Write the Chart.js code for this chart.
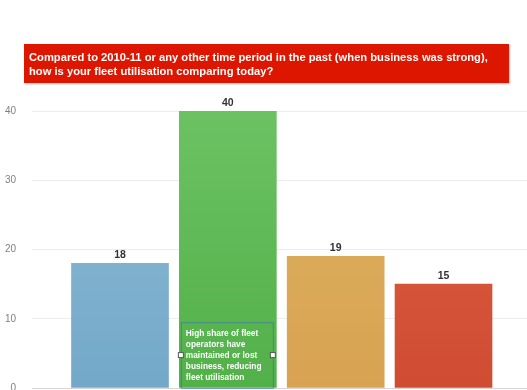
<!DOCTYPE html>
<html>
<head>
<meta charset="utf-8">
<script src="https://cdn.jsdelivr.net/npm/chart.js@4.4.1/dist/chart.umd.min.js"></script>
<style>
  html, body { margin: 0; padding: 0; background: #fff; overflow: hidden; }
  #wrap { position: relative; width: 527px; height: 390px; overflow: hidden; }
  #chart { position: absolute; left: 0; top: 0; width: 527px; height: 410px; }
  .title-box {
    position: absolute; left: 24px; top: 44px; width: 475px; height: 28px;
    padding: 6px 5px 5px 5px; background: #dd1600; color: #fff;
    font: bold 11.2px "Liberation Sans", Arial, sans-serif; line-height: 14px;
    white-space: nowrap;
    box-shadow: 1px 1px 2px rgba(0,0,0,0.25);
  }
</style>
</head>
<body>
<div id="wrap">
  <canvas id="chart" width="527" height="410"></canvas>
  <div class="title-box">Compared to 2010-11 or any other time period in the past (when business was strong),<br>how is your fleet utilisation comparing today?</div>
</div>
<script>
// Data
const categories = ['A', 'B', 'C', 'D'];
const values = [18, 40, 19, 15];
const yTicks = [0, 10, 20, 30, 40];
const noteLines = ['High share of fleet', 'operators have', 'maintained or lost', 'business, reducing', 'fleet utilisation'];

// bar fill colours (light -> dark)
const barColors = [
    ['#8dbdd6', '#74a8c8'],
    ['#6cc262', '#52b049'],
    ['#ddb462', '#d8a252'],
    ['#dc6244', '#d04c32']
];

function barFill(context) {
    const chart = context.chart;
    const {ctx, chartArea} = chart;
    if (!chartArea) return barColors[context.dataIndex][1];
    const c = barColors[context.dataIndex];
    const g = ctx.createLinearGradient(0, chartArea.top, 0, chartArea.bottom);
    g.addColorStop(0, c[0]);
    g.addColorStop(1, c[1]);
    return g;
}

// value labels + annotation box
const extrasPlugin = {
    id: 'extras',
    afterDatasetsDraw(chart) {
        const ctx = chart.ctx;
        const meta = chart.getDatasetMeta(0);
        ctx.save();
        ctx.fillStyle = '#333';
        ctx.font = 'bold 10.5px "Liberation Sans", Arial, sans-serif';
        ctx.textAlign = 'center';
        ctx.textBaseline = 'bottom';
        meta.data.forEach((bar, i) => {
            ctx.fillText(String(values[i]), bar.x, bar.y - 3);
        });

        // note inside the tallest bar
        const xs = chart.scales.x, ys = chart.scales.y;
        const cx = xs.getPixelForValue(1);
        const left = cx - 47, right = cx + 45;
        const top = ys.getPixelForValue(9.5), bottom = ys.getPixelForValue(0);
        ctx.strokeStyle = 'rgba(60,110,170,0.6)';
        ctx.lineWidth = 1;
        ctx.strokeRect(left + 0.5, top + 0.5, right - left, bottom - top);
        ctx.fillStyle = '#fff';
        ctx.font = 'bold 8.3px "Liberation Sans", Arial, sans-serif';
        ctx.textAlign = 'left';
        ctx.textBaseline = 'middle';
        noteLines.forEach((line, i) => {
            ctx.fillText(line, left + 5, top + 11 + i * 11.2);
        });
        // handles
        const hy = (top + bottom) / 2;
        [left, right].forEach(hx => {
            ctx.fillStyle = '#fff';
            ctx.fillRect(hx - 2.5, hy - 2.5, 5, 5);
            ctx.strokeStyle = '#555';
            ctx.strokeRect(hx - 2.5, hy - 2.5, 5, 5);
        });
        ctx.restore();
    }
};

const ctx = document.getElementById('chart');
new Chart(ctx, {
    type: 'bar',
    data: {
        datasets: [{
            data: values.map((v, i) => ({x: i, y: v})),
            backgroundColor: barFill,
            borderWidth: 0,
            barThickness: 97
        }]
    },
    plugins: [extrasPlugin],
    options: {
        responsive: false,
        maintainAspectRatio: false,
        animation: false,
        layout: { padding: { top: 111, bottom: 2, left: 0, right: 0 } },
        plugins: { legend: { display: false }, tooltip: { enabled: false } },
        scales: {
            x: {
                type: 'linear',
                min: -0.816,
                max: 3.774,
                offset: false,
                display: false
            },
            y: {
                min: 0,
                max: 40,
                afterBuildTicks: (scale) => { scale.ticks = yTicks.map(v => ({value: v})); },
                afterFit: (scale) => { scale.width = 32; },
                border: { display: false },
                grid: {
                    color: (c) => c.tick.value === 0 ? '#d6d6d6' : '#ececec',
                    drawTicks: false
                },
                ticks: {
                    padding: 16,
                    color: '#808080',
                    font: { size: 10, family: '"Liberation Sans", Arial, sans-serif' }
                }
            }
        }
    }
});
</script>
</body>
</html>
